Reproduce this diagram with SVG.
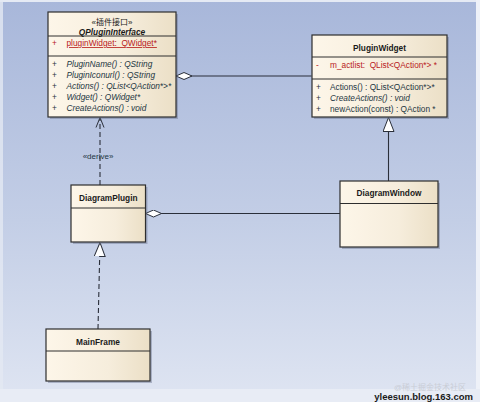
<svg xmlns="http://www.w3.org/2000/svg" width="480" height="402" viewBox="0 0 480 402">
<defs>
<linearGradient id="bg" x1="0" y1="0" x2="0" y2="1">
<stop offset="0" stop-color="#a8b7da"/>
<stop offset="0.55" stop-color="#c3cee6"/>
<stop offset="1" stop-color="#dfe5f2"/>
</linearGradient>
<linearGradient id="node" x1="0" y1="0" x2="1" y2="0">
<stop offset="0" stop-color="#fdf6e9"/>
<stop offset="0.6" stop-color="#f6eddc"/>
<stop offset="1" stop-color="#ebdfc6"/>
</linearGradient>
<marker id="diamond" viewBox="0 0 16 8" refX="0" refY="4" markerWidth="16" markerHeight="8" markerUnits="userSpaceOnUse" orient="auto">
<path d="M0,4 L8,0.5 L16,4 L8,7.5 Z" fill="#ffffff" stroke="#2a2f3a" stroke-width="1"/>
</marker>
<marker id="tri" viewBox="0 0 14 12" refX="14" refY="6" markerWidth="14" markerHeight="12" markerUnits="userSpaceOnUse" orient="auto">
<path d="M0,0.5 L14,6 L0,11.5 Z" fill="#ffffff" stroke="#2a2f3a" stroke-width="1"/>
</marker>
<marker id="open" viewBox="0 0 10 10" refX="10" refY="5" markerWidth="10" markerHeight="10" markerUnits="userSpaceOnUse" orient="auto">
<path d="M0,1 L10,5 L0,9" fill="none" stroke="#2a2f3a" stroke-width="1"/>
</marker>
</defs>
<style>
.box{fill:url(#node);stroke:#2e2e2e;stroke-width:1.2}
.shadow{fill:#6d7690;opacity:0.45}
.div{stroke:#2e2e2e;stroke-width:1}
.t{font-family:"Liberation Sans",Arial,sans-serif;font-size:8.3px;fill:#1d3642;white-space:pre}
.title{font-family:"Liberation Sans",Arial,sans-serif;font-size:8.3px;font-weight:bold;fill:#1a1a1a;text-anchor:middle}
.it{font-style:italic}
.red{fill:#b8201c}
.line{fill:none;stroke:#2a2f3a;stroke-width:1.1}
.dash{stroke-dasharray:5,3}
</style>
<rect x="0" y="0" width="480" height="402" fill="url(#bg)"/>
<rect x="0" y="0" width="480" height="2" fill="#ffffff" opacity="0.7"/>
<rect x="0" y="0" width="3" height="402" fill="#e3e8f3" opacity="0.8"/>
<rect x="476" y="0" width="4" height="402" fill="#eef1f8"/>
<rect x="0" y="389" width="480" height="13" fill="#e8ecf5"/>

<g id="connectors">
<line class="line" x1="176" y1="76" x2="311.5" y2="76" marker-start="url(#diamond)"/>
<line class="line" x1="388.5" y1="181" x2="388.5" y2="117.5" marker-end="url(#tri)"/>
<line class="line dash" x1="100" y1="185" x2="100" y2="117.5" marker-end="url(#open)"/>
<line class="line" x1="145.5" y1="213.5" x2="340" y2="213.5" marker-start="url(#diamond)"/>
<line class="line dash" x1="98" y1="329" x2="100" y2="242.5" marker-end="url(#tri)"/>
<text class="t" x="98" y="159" text-anchor="middle" style="font-size:8px">«derive»</text>
</g>

<g id="QPluginInterface">
<rect class="shadow" x="50" y="14" width="128" height="105"/>
<rect class="box" x="48" y="12" width="128" height="105"/>
<line class="div" x1="48" y1="36" x2="176" y2="36"/>
<line class="div" x1="48" y1="56" x2="176" y2="56"/>
<text x="112" y="25" style="font-family:'Liberation Sans','Noto Sans CJK SC',sans-serif;font-size:8px;fill:#1a1a1a;text-anchor:middle">«插件接口»</text>
<text class="title it" x="112" y="35">QPluginInterface</text>
<text class="t red" x="52" y="46">+</text>
<text class="t red" x="66.5" y="46" text-decoration="underline" xml:space="preserve">pluginWidget:  QWidget*</text>
<text class="t" x="52" y="67">+</text>
<text class="t it" x="66.5" y="67">PluginName() : QString</text>
<text class="t" x="52" y="78">+</text>
<text class="t it" x="66.5" y="78">PluginIconurl() : QString</text>
<text class="t" x="52" y="89">+</text>
<text class="t it" x="66.5" y="89">Actions() : QList&lt;QAction*&gt;*</text>
<text class="t" x="52" y="100">+</text>
<text class="t it" x="66.5" y="100">Widget() : QWidget*</text>
<text class="t" x="52" y="111">+</text>
<text class="t it" x="66.5" y="111">CreateActions() : void</text>
</g>

<g id="PluginWidget">
<rect class="shadow" x="314" y="37" width="135" height="82"/>
<rect class="box" x="312" y="35" width="135" height="82"/>
<line class="div" x1="312" y1="57" x2="447" y2="57"/>
<line class="div" x1="312" y1="79" x2="447" y2="79"/>
<text class="title" x="379.5" y="51">PluginWidget</text>
<text class="t red" x="316" y="68">-</text>
<text class="t red" x="330" y="68" xml:space="preserve">m_actlist:  QList&lt;QAction*&gt; *</text>
<text class="t" x="316" y="90">+</text>
<text class="t" x="330" y="90">Actions() : QList&lt;QAction*&gt;*</text>
<text class="t" x="316" y="101">+</text>
<text class="t it" x="330" y="101">CreateActions() : void</text>
<text class="t" x="316" y="112">+</text>
<text class="t" x="330" y="112">newAction(const) : QAction *</text>
</g>

<g id="DiagramPlugin">
<rect class="shadow" x="73" y="187" width="74.5" height="57"/>
<rect class="box" x="71" y="185" width="74.5" height="57"/>
<line class="div" x1="71" y1="208" x2="145.5" y2="208"/>
<text class="title" x="108.3" y="201">DiagramPlugin</text>
</g>

<g id="DiagramWindow">
<rect class="shadow" x="342" y="183" width="98" height="66"/>
<rect class="box" x="340" y="181" width="98" height="66"/>
<line class="div" x1="340" y1="203.5" x2="438" y2="203.5"/>
<text class="title" x="389" y="196">DiagramWindow</text>
</g>

<g id="MainFrame">
<rect class="shadow" x="48" y="331" width="104" height="52"/>
<rect class="box" x="46" y="329" width="104" height="52"/>
<line class="div" x1="46" y1="351" x2="150" y2="351"/>
<text class="title" x="98" y="345">MainFrame</text>
</g>

<text x="394" y="389.5" style="font-family:'Liberation Sans','Noto Sans CJK SC',sans-serif;font-size:8px;fill:#c9cdd6">@稀土掘金技术社区</text>
<text x="473" y="400" style="font-family:'Liberation Sans',Arial,sans-serif;font-size:9.5px;font-weight:bold;fill:#1a1a1a;text-anchor:end">yleesun.blog.163.com</text>
</svg>
